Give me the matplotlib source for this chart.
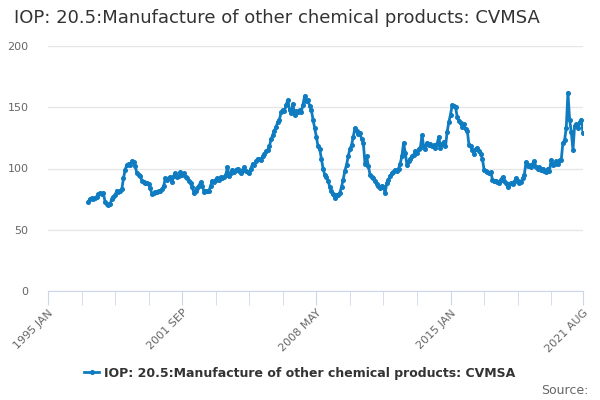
import numpy as np
import matplotlib.pyplot as plt

# monthly index values, 1997 JAN .. 2021 AUG
y1997 = [73, 75, 76, 75, 76, 77, 79, 80, 79, 80, 73, 71]
y1998 = [70, 71, 75, 77, 78, 82, 81, 82, 83, 92, 99, 103]
y1999 = [104, 103, 106, 105, 102, 96, 95, 94, 90, 89, 88, 88]
y2000 = [87, 84, 79, 80, 81, 81, 82, 82, 83, 86, 92, 91]
y2001 = [92, 93, 89, 94, 96, 93, 94, 97, 95, 96, 93, 92]
y2002 = [90, 88, 85, 80, 82, 84, 86, 89, 86, 81, 82, 82]
y2003 = [82, 86, 90, 89, 91, 92, 91, 93, 92, 93, 95, 101]
y2004 = [94, 96, 99, 97, 99, 100, 98, 96, 99, 101, 98, 97]
y2005 = [96, 100, 104, 103, 106, 108, 108, 107, 110, 112, 114, 115]
y2006 = [118, 124, 127, 131, 134, 138, 140, 146, 148, 147, 152, 156]
y2007 = [148, 145, 153, 144, 147, 146, 148, 146, 152, 159, 155, 156]
y2008 = [151, 148, 140, 133, 126, 118, 116, 108, 100, 95, 93, 90]
y2009 = [85, 82, 79, 76, 78, 78, 80, 85, 91, 98, 103, 110]
y2010 = [116, 119, 126, 133, 131, 128, 129, 124, 121, 104, 110, 102]
y2011 = [95, 93, 92, 90, 87, 86, 84, 86, 85, 80, 88, 91]
y2012 = [94, 96, 97, 99, 98, 100, 104, 110, 121, 113, 103, 106]
y2013 = [108, 110, 111, 114, 113, 116, 117, 127, 118, 116, 121, 119]
y2014 = [120, 118, 119, 117, 120, 126, 117, 120, 122, 118, 130, 138]
y2015 = [144, 152, 151, 150, 142, 139, 137, 134, 136, 132, 131, 119]
y2016 = [118, 115, 112, 116, 117, 114, 112, 108, 99, 98, 97, 96]
y2017 = [97, 91, 90, 90, 89, 88, 91, 93, 90, 88, 85, 87]
y2018 = [88, 87, 89, 92, 90, 88, 89, 92, 95, 105, 102, 103]
y2019 = [101, 104, 106, 101, 100, 101, 99, 100, 98, 97, 100, 98]
y2020 = [107, 103, 104, 106, 104, 107, 107, 121, 123, 133, 162, 140]
y2021 = [130, 115, 135, 136, 133, 138, 140, 129]

values = (y1997 + y1998 + y1999 + y2000 + y2001 + y2002 + y2003 + y2004
          + y2005 + y2006 + y2007 + y2008 + y2009 + y2010 + y2011 + y2012
          + y2013 + y2014 + y2015 + y2016 + y2017 + y2018 + y2019 + y2020
          + y2021)

months = ['JAN', 'FEB', 'MAR', 'APR', 'MAY', 'JUN',
          'JUL', 'AUG', 'SEP', 'OCT', 'NOV', 'DEC']
categories = ['%d %s' % (y, m) for y in range(1995, 2022) for m in months][:320]
start = categories.index('1997 JAN')
x = np.arange(start, start + len(values))

title = 'IOP: 20.5:Manufacture of other chemical products: CVMSA'
series_name = 'IOP: 20.5:Manufacture of other chemical products: CVMSA'
label_cats = ['1995 JAN', '2001 SEP', '2008 MAY', '2015 JAN', '2021 AUG']

blue = '#0f7cc2'
axis_col = '#ccd6eb'

fig = plt.figure(figsize=(6, 4), dpi=100)
ax = fig.add_axes([0.08, 0.2725, 0.8917, 0.6125])

ax.plot(x, values, color=blue, linewidth=2, marker='o', markersize=2.6,
        label=series_name)

ax.set_xlim(0, 319)
ax.set_ylim(0, 200)
ax.set_yticks([0, 50, 100, 150, 200])
ax.tick_params(axis='y', length=0, labelsize=8, colors='#666666', pad=14)
ax.grid(axis='y', color='#e6e6e6', linewidth=1)
ax.set_axisbelow(True)

major = [categories.index(c) for c in label_cats]
minor = [i for i in range(20, 320, 20) if i not in major]
ax.set_xticks(major)
ax.set_xticklabels(label_cats, rotation=45, ha='right', rotation_mode='anchor')
ax.set_xticks(minor, minor=True)
ax.tick_params(axis='x', which='both', length=10, color=axis_col,
               labelsize=8, labelcolor='#666666', pad=2)

for s in ['top', 'right', 'left']:
    ax.spines[s].set_visible(False)
ax.spines['bottom'].set_color(axis_col)

fig.text(0.023, 0.955, title, fontsize=13, color='#333333', va='center')

leg = fig.legend(loc='center', bbox_to_anchor=(0.5, 0.067), frameon=False,
                 prop={'size': 9, 'weight': 'bold'}, handlelength=1.2,
                 handletextpad=0.4)
for t in leg.get_texts():
    t.set_color('#333333')

fig.text(0.98, 0.025, 'Source:', fontsize=9, color='#666666', ha='right',
         va='center')

fig.savefig('out.png', dpi=100)
